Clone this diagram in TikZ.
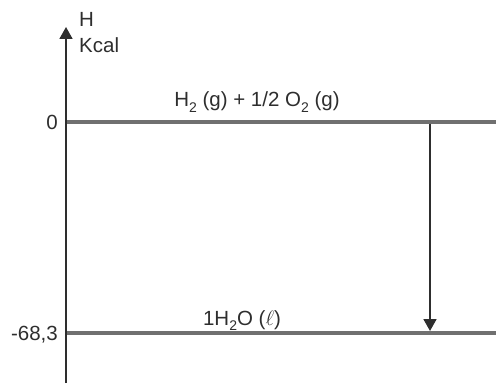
\documentclass[tikz,border=0pt]{standalone}
\usepackage{fontspec}
\setmainfont{Liberation Sans}
\usetikzlibrary{arrows.meta}
\definecolor{axisc}{HTML}{2E2E2E}
\definecolor{levelc}{HTML}{707070}
\newcommand{\lowsub}[1]{\raisebox{-0.28em}{\fontsize{14}{16}\selectfont #1}}
\begin{document}
\begin{tikzpicture}[x=1pt,y=-1pt,
  lbl/.style={inner sep=0pt,font=\fontsize{20.5}{23}\selectfont,text=axisc},
  level/.style={draw=levelc,line width=4pt},
  axisline/.style={draw=axisc,line width=1.8pt},
  tip/.style={-{Triangle[length=12pt,width=13pt]}}]
\useasboundingbox (0,0) rectangle (496,385);
\coordinate (axb) at (66,383);
\coordinate (axt) at (66,27);
\coordinate (l0a) at (66,122);
\coordinate (l0b) at (496,122);
\coordinate (l1a) at (66,333);
\coordinate (l1b) at (496,333);
\coordinate (ars) at (430,124);
\coordinate (are) at (430,331);
\draw[level] (l0a) -- (l0b);
\draw[level] (l1a) -- (l1b);
\draw[axisline,tip] (axb) -- (axt);
\draw[axisline,tip] (ars) -- (are);
\node[lbl,anchor=west] (h) at (79,19) {H};
\node[lbl,anchor=west] (kcal) at (79,45) {Kcal};
\node[lbl,anchor=east] (zero) at (58,122) {0};
\node[lbl,anchor=east] (m683) at (58,335) {-68,3};
\node[lbl,anchor=base] (react) at (257,107) {H\lowsub{2} (g) + 1/2 O\lowsub{2} (g)};
\node[lbl,anchor=base] (prod) at (242,325) {1H\lowsub{2}O ($\ell$)};
\end{tikzpicture}
\end{document}
